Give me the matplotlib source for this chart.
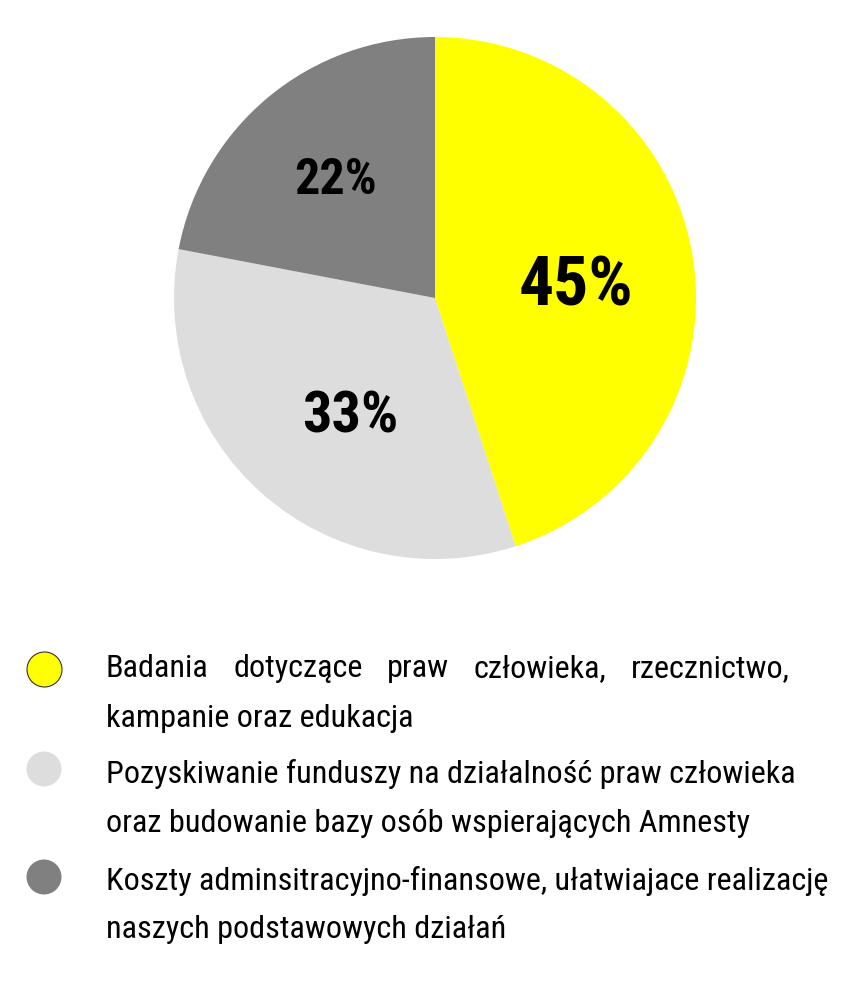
import matplotlib
matplotlib.use("Agg")
import matplotlib.pyplot as plt
import numpy as np
from matplotlib import font_manager

# data
shares = [45, 33, 22]
colors = ["#ffff00", "#dddddd", "#808080"]
legend_lines = [
    ["Badania dotyczące praw człowieka, rzecznictwo,", "kampanie oraz edukacja"],
    ["Pozyskiwanie funduszy na działalność praw człowieka", "oraz budowanie bazy osób wspierających Amnesty"],
    ["Koszty adminsitracyjno-finansowe, ułatwiajace realizację", "naszych podstawowych działań"],
]

# label styling
pct_sizes = [50, 42, 36]
pct_radius = [0.54, 0.56, 0.59]
pct_angle_shift = [-4.5, 6, 0.5]

available = {f.name for f in font_manager.fontManager.ttflist}
family = "DejaVu Sans"
for name in ["Liberation Sans Narrow", "DejaVu Sans Condensed", "Roboto Condensed", "Roboto", "Liberation Sans"]:
    if name in available:
        family = name
        break
plt.rcParams["font.family"] = [family, "DejaVu Sans"]

W, H = 854, 983
fig = plt.figure(figsize=(W / 100, H / 100), dpi=100)

# pie, centre (435, 298), radius 261 px
cx, cy, r = 435, 298, 261
ax = fig.add_axes([(cx - r) / W, 1 - (cy + r) / H, 2 * r / W, 2 * r / H])
wedges, _ = ax.pie(shares, colors=colors, startangle=90, counterclock=False,
                   radius=1.0, wedgeprops=dict(linewidth=0))
ax.set_xlim(-1, 1)
ax.set_ylim(-1, 1)
ax.set_aspect("equal")
ax.axis("off")

for w, val, fs, rr, da in zip(wedges, shares, pct_sizes, pct_radius, pct_angle_shift):
    ang = np.deg2rad((w.theta1 + w.theta2) / 2 + da)
    ax.text(rr * np.cos(ang), rr * np.sin(ang), f"{val}%", ha="center", va="center",
            fontsize=fs, fontweight="bold", color="black")

# legend in pixel coordinates
lax = fig.add_axes([0, 0, 1, 1])
lax.set_xlim(0, W)
lax.set_ylim(H, 0)
lax.axis("off")

circle_y = [669, 769, 877]
baselines = [(677, 727), (783, 832), (890, 938)]
text_x = 106

for c, y in zip(colors, circle_y):
    lax.scatter([44], [y], s=(35 * 0.72) ** 2, color=c,
                edgecolors="#333333" if c == "#ffff00" else "none", linewidths=0.8, zorder=3)

fig.canvas.draw()
renderer = fig.canvas.get_renderer()

# fit font size so the longest line matches the reference width
probe = lax.text(text_x, 0, legend_lines[2][0], fontsize=25)
pw = probe.get_window_extent(renderer).width
probe.remove()
fs_leg = 25 * (832 - text_x) / pw

for i, (lines, bls) in enumerate(zip(legend_lines, baselines)):
    for j, (line, by) in enumerate(zip(lines, bls)):
        if i == 0 and j == 0:
            # justified first line
            words = line.split(" ")
            txts = [lax.text(0, by, wd, fontsize=fs_leg, va="baseline", ha="left") for wd in words]
            widths = [t.get_window_extent(renderer).width for t in txts]
            right = 790
            gap = (right - text_x - sum(widths)) / (len(words) - 1)
            x = text_x
            for t, wdt in zip(txts, widths):
                t.set_x(x)
                x += wdt + gap
        else:
            lax.text(text_x, by, line, fontsize=fs_leg, va="baseline", ha="left")

fig.savefig("out.png", dpi=100)
